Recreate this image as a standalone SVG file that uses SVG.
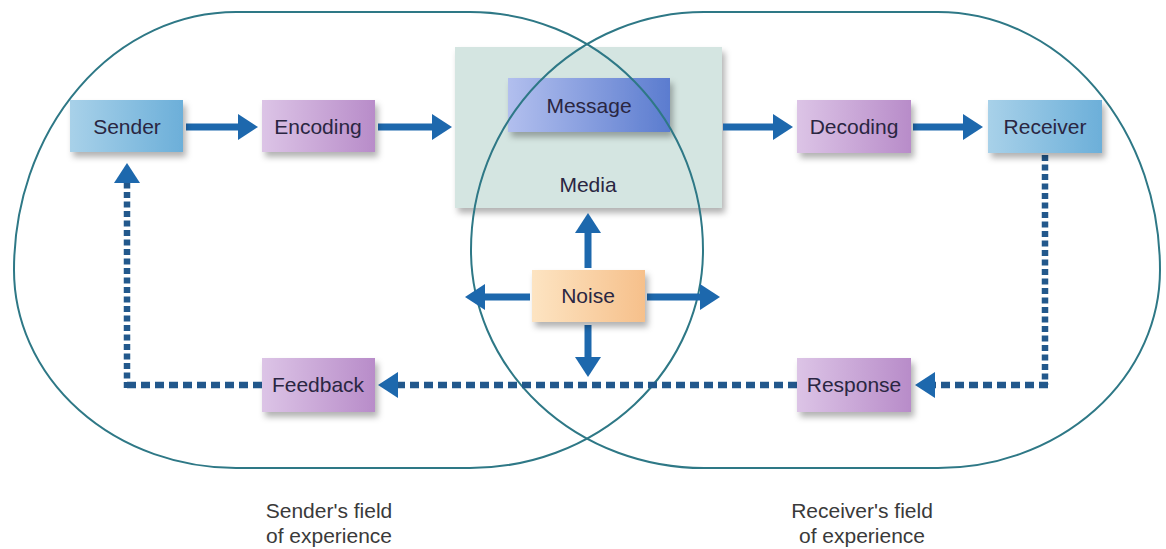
<svg xmlns="http://www.w3.org/2000/svg" width="1166" height="549" viewBox="0 0 1166 549">
<defs>
<linearGradient id="gBlue" x1="0" y1="0" x2="1" y2="0"><stop offset="0" stop-color="#a8d1e9"/><stop offset="1" stop-color="#6cafd9"/></linearGradient>
<linearGradient id="gPurple" x1="0" y1="0" x2="1" y2="0"><stop offset="0" stop-color="#dcc4e6"/><stop offset="1" stop-color="#b88cc9"/></linearGradient>
<linearGradient id="gMsg" x1="0" y1="0" x2="1" y2="0"><stop offset="0" stop-color="#b2bfee"/><stop offset="1" stop-color="#5b7ccf"/></linearGradient>
<linearGradient id="gNoise" x1="0" y1="0" x2="1" y2="0"><stop offset="0" stop-color="#fde4c2"/><stop offset="1" stop-color="#f6c08b"/></linearGradient>
<filter id="shadow" x="-20%" y="-20%" width="150%" height="160%"><feDropShadow dx="3" dy="5" stdDeviation="3" flood-color="#000" flood-opacity="0.3"/></filter>
<marker id="head" viewBox="0 0 20 26" refX="10" refY="13" markerWidth="20" markerHeight="26" markerUnits="userSpaceOnUse" orient="auto"><path d="M0,0 L20,13 L0,26 Z" fill="#1d68ad"/></marker>
</defs>
<style>
.field{fill:none;stroke:#2e7886;stroke-width:2}
.box{filter:url(#shadow)}
.t{font-family:"Liberation Sans",Arial,sans-serif;font-size:21px;fill:#2a2642;text-anchor:middle}
.lbl{font-family:"Liberation Sans",Arial,sans-serif;font-size:21px;fill:#3a3a3a;text-anchor:middle}
.solid{stroke:#1d68ad;stroke-width:7;fill:none;marker-end:url(#head)}
.dh{stroke:#22588c;stroke-width:6.5;fill:none;stroke-dasharray:9 5}
.dv{stroke:#22588c;stroke-width:6.5;fill:none;stroke-dasharray:6 3.5}
</style>
<rect width="1166" height="549" fill="#ffffff"/>
<g id="media">
<rect class="box" x="455" y="47" width="267" height="161" fill="#d4e5e1"/>
<text class="t" x="588" y="192">Media</text>
</g>
<g id="message">
<rect class="box" x="508" y="78" width="162" height="54" fill="url(#gMsg)"/>
<text class="t" x="589" y="113">Message</text>
</g>
<g id="sender-field">
<path class="field" d="M236,12 L470,12 A233,238 0 0 1 703,250 A233,218 0 0 1 470,468 L236,468 A222,198 0 0 1 14,270 A222,258 0 0 1 236,12 Z"/>
<text class="lbl" x="329" y="518">Sender's field</text>
<text class="lbl" x="329" y="543">of experience</text>
</g>
<g id="receiver-field">
<path class="field" d="M938,12 L704,12 A233,238 0 0 0 471,250 A233,218 0 0 0 704,468 L938,468 A222,198 0 0 0 1160,270 A222,258 0 0 0 938,12 Z"/>
<text class="lbl" x="862" y="518">Receiver's field</text>
<text class="lbl" x="862" y="543">of experience</text>
</g>
<g id="connectors">
<line class="solid" x1="186" y1="127" x2="248" y2="127"/>
<line class="solid" x1="378" y1="127" x2="442" y2="127"/>
<line class="solid" x1="723" y1="127" x2="783" y2="127"/>
<line class="solid" x1="913" y1="127" x2="973" y2="127"/>
<line class="solid" x1="588" y1="268" x2="588" y2="223"/>
<line class="solid" x1="530" y1="297" x2="475" y2="297"/>
<line class="solid" x1="647" y1="297" x2="710" y2="297"/>
<line class="solid" x1="588" y1="325" x2="588" y2="367"/>
<path class="dv" d="M1045,155 L1045,385"/>
<path class="dh" d="M1048,385 L925,385" style="marker-end:url(#head)"/>
<path class="dh" d="M797,385 L388,385" style="marker-end:url(#head)"/>
<path class="dh" d="M262,385 L124,385"/>
<path class="dv" d="M127,388 L127,173" style="marker-end:url(#head)"/>
</g>
<g id="sender">
<rect class="box" x="70" y="100" width="113" height="52" fill="url(#gBlue)"/>
<text class="t" x="127" y="134">Sender</text>
</g>
<g id="encoding">
<rect class="box" x="262" y="100" width="113" height="52" fill="url(#gPurple)"/>
<text class="t" x="318" y="134">Encoding</text>
</g>
<g id="decoding">
<rect class="box" x="797" y="100" width="114" height="53" fill="url(#gPurple)"/>
<text class="t" x="854" y="134">Decoding</text>
</g>
<g id="receiver">
<rect class="box" x="988" y="100" width="114" height="53" fill="url(#gBlue)"/>
<text class="t" x="1045" y="134">Receiver</text>
</g>
<g id="noise">
<rect class="box" x="532" y="270" width="113" height="52" fill="url(#gNoise)"/>
<text class="t" x="588" y="303">Noise</text>
</g>
<g id="response">
<rect class="box" x="797" y="358" width="114" height="54" fill="url(#gPurple)"/>
<text class="t" x="854" y="392">Response</text>
</g>
<g id="feedback">
<rect class="box" x="262" y="358" width="113" height="54" fill="url(#gPurple)"/>
<text class="t" x="318" y="392">Feedback</text>
</g>
</svg>
